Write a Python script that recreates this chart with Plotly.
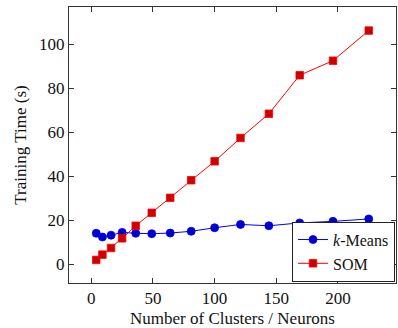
import plotly.graph_objects as go

clusters = [4, 9, 16, 25, 36, 49, 64, 81, 100, 121, 144, 169, 196, 225]
kmeans_time = [14.2, 12.5, 13.3, 14.6, 14.2, 14.0, 14.3, 15.1, 16.7, 18.2, 17.6, 18.9, 19.6, 20.7]
som_time = [2.1, 4.5, 7.5, 11.9, 17.6, 23.5, 30.3, 38.3, 46.9, 57.5, 68.5, 86.0, 92.6, 106.3]
x_ticks = [0, 50, 100, 150, 200]
y_ticks = [0, 20, 40, 60, 80, 100]

FONT = "Liberation Serif"

fig = go.Figure()
fig.add_trace(go.Scatter(
    x=clusters, y=kmeans_time, mode="lines+markers", name="<i>k</i>-Means",
    line=dict(color="#0000ff", width=1),
    marker=dict(symbol="circle", size=8, color="#0000cc", line=dict(color="#0000ff", width=0.8)),
))
fig.add_trace(go.Scatter(
    x=clusters, y=som_time, mode="lines+markers", name="SOM",
    line=dict(color="#ff0000", width=1),
    marker=dict(symbol="square", size=7.5, color="#cc0000", line=dict(color="#ff0000", width=0.8)),
))

axis_common = dict(
    showline=True, linecolor="#333333", linewidth=1, mirror="ticks",
    ticks="inside", ticklen=5, tickcolor="#333333", tickwidth=1,
    showgrid=False, zeroline=False, automargin=False,
    tickfont=dict(family=FONT, size=17, color="#111111"),
)

fig.update_layout(
    width=398, height=328,
    margin=dict(l=68.5, r=1.5, t=7, b=45),
    paper_bgcolor="white", plot_bgcolor="white",
    font=dict(family=FONT, size=17, color="#111111"),
    xaxis=dict(
        range=[-18.1, 247.1], tickvals=x_ticks,
        title=dict(text="Number of Clusters / Neurons", font=dict(family=FONT, size=17), standoff=4),
        **axis_common,
    ),
    yaxis=dict(
        range=[-8.4, 117.0], tickvals=y_ticks,
        title=dict(text="Training Time (s)", font=dict(family=FONT, size=17), standoff=8),
        **axis_common,
    ),
    legend=dict(
        x=0.997, y=0.005, xanchor="right", yanchor="bottom",
        bgcolor="white", bordercolor="#222222", borderwidth=1,
        font=dict(family=FONT, size=16), tracegroupgap=0, itemwidth=30,
    ),
    showlegend=True,
)

fig.write_html(
    "out.html",
    config={"displayModeBar": False},
    post_script="document.body.style.margin='0';document.body.style.overflow='hidden';",
)
